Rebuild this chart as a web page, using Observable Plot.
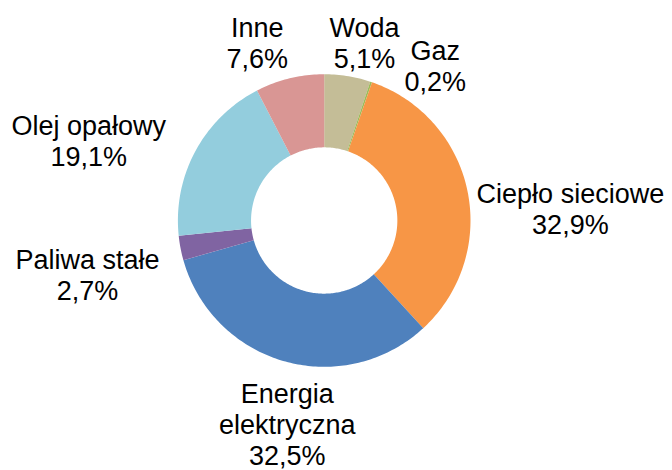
<!DOCTYPE html>
<html><head><meta charset="utf-8">
<script src="https://cdn.jsdelivr.net/npm/d3@7"></script>
<script src="https://cdn.jsdelivr.net/npm/@observablehq/plot@0.6"></script>
<style>body{margin:0;background:#fff}#chart{width:672px;height:470px}</style>
</head><body><div id="chart"></div>
<script>
// ---- data ----
const categories = ["Woda", "Gaz", "Ciepło sieciowe", "Energia\nelektryczna", "Paliwa stałe", "Olej opałowy", "Inne"];
const shares = [5.1, 0.2, 32.9, 32.5, 2.7, 19.1, 7.6];
const colors = ["#C4BD97", "#9BBB59", "#F79646", "#4F81BD", "#8064A2", "#93CDDD", "#D99694"];

// ---- layout (label nudges, px) ----
const labelDx = [10, 50, 60, 15, -50, -68, -22];
const labelDy = [10, 25, 27, 20.5, 18, 10, 7];
const innerRatio = 0.5;
const labelRadius = 1.3;

const total = d3.sum(shares);
let cum = 0;
const slices = shares.map((v, i) => {
  const a0 = cum / total * 2 * Math.PI;
  cum += v;
  const a1 = cum / total * 2 * Math.PI;
  return {name: categories[i], value: v, a0, a1, mid: (a0 + a1) / 2};
});

const ringPoints = slices.flatMap(s => {
  const n = Math.max(2, Math.ceil((s.a1 - s.a0) / (Math.PI / 180)));
  const pts = [];
  for (let k = 0; k <= n; k++) {
    const a = s.a0 + (s.a1 - s.a0) * k / n;
    pts.push({name: s.name, x: Math.sin(a), y: Math.cos(a)});
  }
  for (let k = n; k >= 0; k--) {
    const a = s.a0 + (s.a1 - s.a0) * k / n;
    pts.push({name: s.name, x: innerRatio * Math.sin(a), y: innerRatio * Math.cos(a)});
  }
  return pts;
});

const fmt = v => v.toFixed(1).replace(".", ",") + "%";

const labelMarks = slices.map((s, i) => Plot.text([s], {
  x: d => labelRadius * Math.sin(d.mid),
  y: d => labelRadius * Math.cos(d.mid),
  text: d => d.name + "\n" + fmt(d.value),
  dx: labelDx[i],
  dy: labelDy[i],
  textAnchor: "middle",
  lineAnchor: "middle",
  lineHeight: 1.15,
  fontSize: 27,
  fill: "#000"
}));

const chart = Plot.plot({
  width: 672,
  height: 470,
  marginLeft: 177.4,
  marginRight: 202,
  marginTop: 73.7,
  marginBottom: 103.7,
  x: {domain: [-1, 1], axis: null},
  y: {domain: [-1, 1], axis: null},
  color: {domain: categories, range: colors},
  style: {fontFamily: "'Liberation Sans', Arial, sans-serif", background: "#fff", overflow: "visible"},
  marks: [
    Plot.line(ringPoints, {x: "x", y: "y", z: "name", fill: "name", stroke: "none", curve: "linear-closed"}),
    ...labelMarks
  ]
});
document.getElementById("chart").append(chart);
</script>
</body></html>
